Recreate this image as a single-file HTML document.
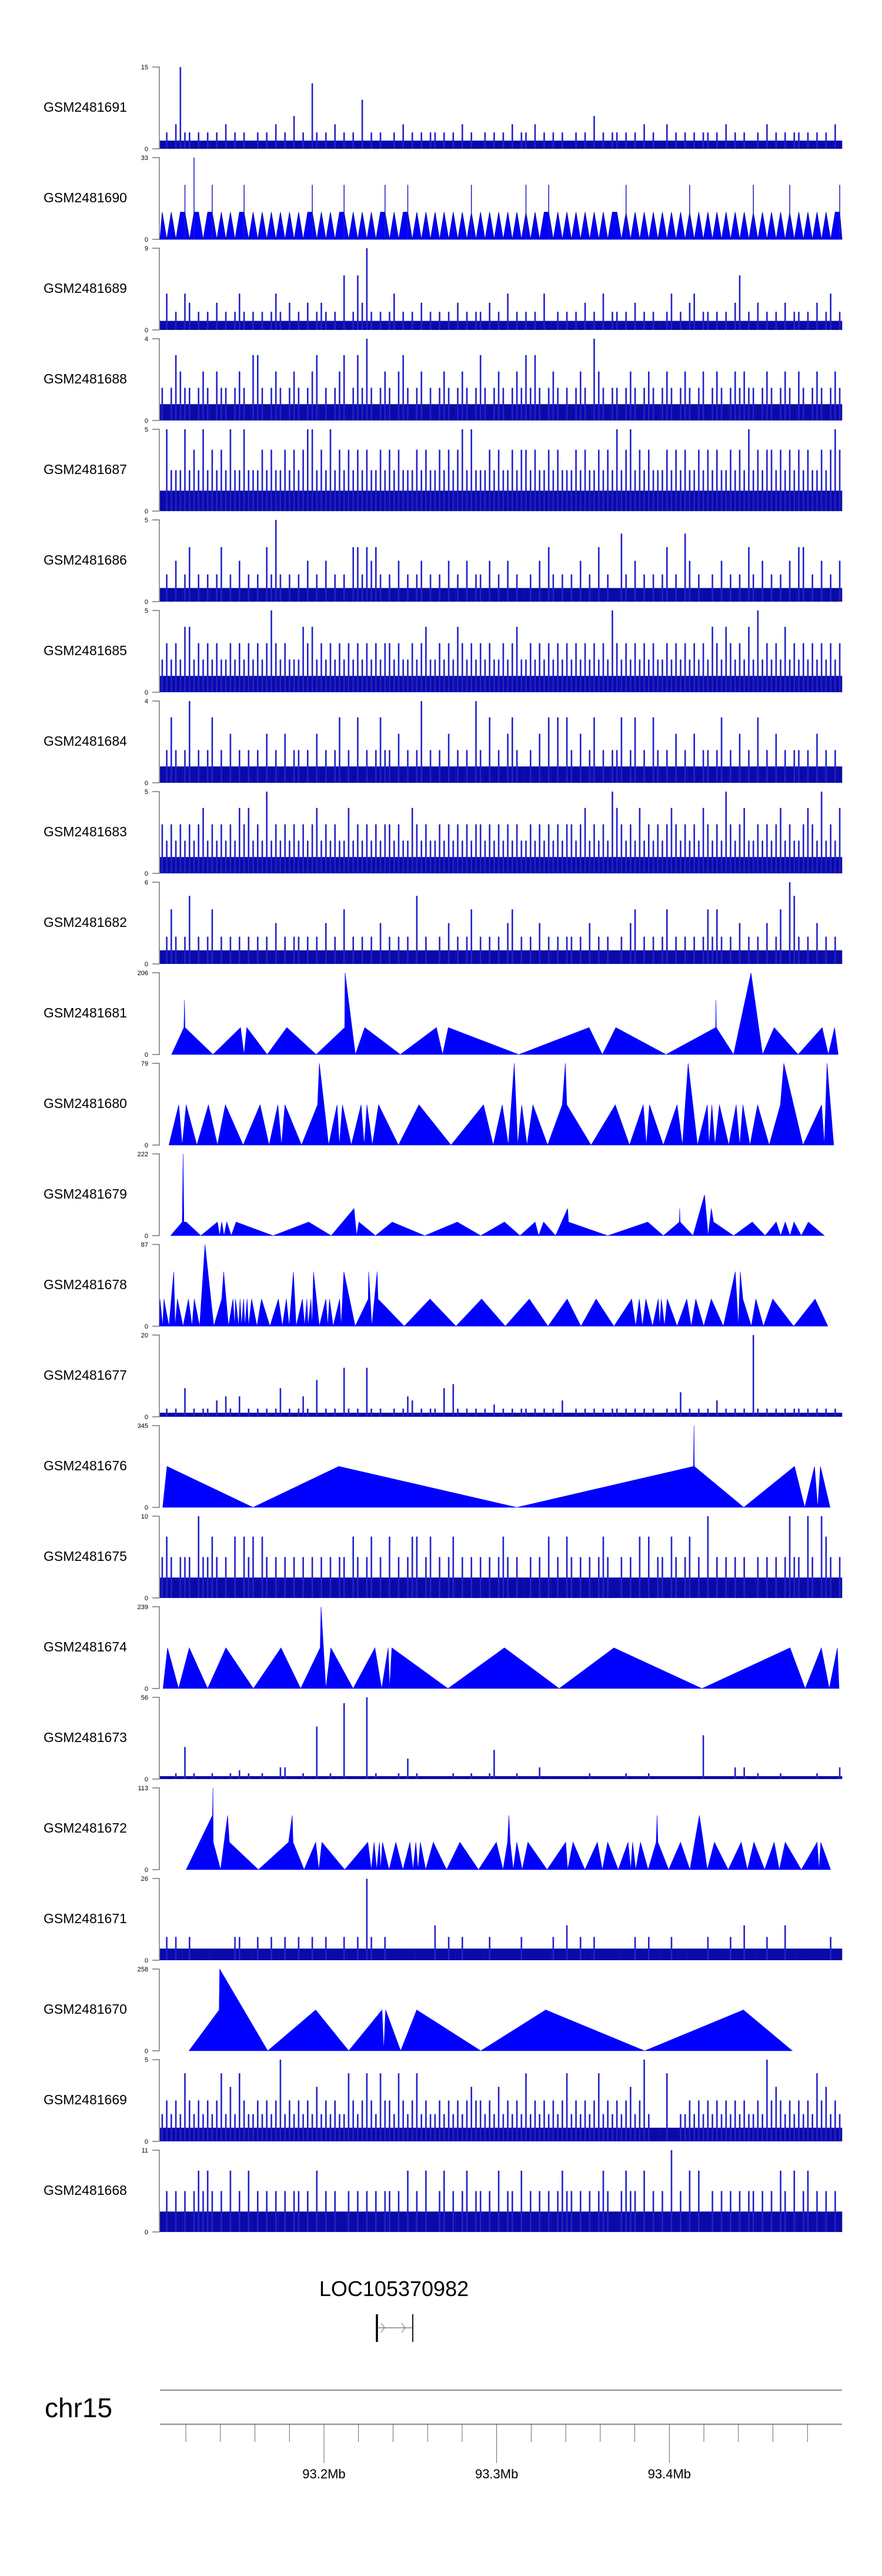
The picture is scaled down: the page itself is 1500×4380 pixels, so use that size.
<!DOCTYPE html>
<html><head><meta charset="utf-8">
<style>
html,body{margin:0;padding:0;background:#fff;}
svg{display:block;font-family:"Liberation Sans",Arial,sans-serif;}
</style></head>
<body>
<svg id="chart" width="1500" height="4380" viewBox="0 0 1500 4380" xmlns="http://www.w3.org/2000/svg">
<rect width="1500" height="4380" fill="#fff"/>
<g id="tracks"></g>
<g id="gene">
  <text x="670" y="3904" font-size="36" text-anchor="middle">LOC105370982</text>
  <line x1="641" y1="3935" x2="641" y2="3982" stroke="#000" stroke-width="3.5"/>
  <line x1="702" y1="3935" x2="702" y2="3982" stroke="#000" stroke-width="1.8"/>
  <line x1="641" y1="3958" x2="702" y2="3958" stroke="#444" stroke-width="1"/>
  <polyline points="648,3950 654,3958 648,3966" fill="none" stroke="#555" stroke-width="0.8"/>
  <polyline points="683,3950 689,3958 683,3966" fill="none" stroke="#555" stroke-width="0.8"/>
</g>
<g id="genome-axis">
  <text x="76" y="4110" font-size="46">chr15</text>
  <line x1="272" y1="4064" x2="1432" y2="4064" stroke="#999" stroke-width="2.5"/>
  <line x1="272" y1="4122" x2="1432" y2="4122" stroke="#999" stroke-width="2.5"/>
  <g id="gticks"></g>
</g>
</svg>
<script>
// ---------- data ----------
const sampleNames = ["GSM2481691","GSM2481690","GSM2481689","GSM2481688","GSM2481687","GSM2481686","GSM2481685","GSM2481684","GSM2481683","GSM2481682","GSM2481681","GSM2481680","GSM2481679","GSM2481678","GSM2481677","GSM2481676","GSM2481675","GSM2481674","GSM2481673","GSM2481672","GSM2481671","GSM2481670","GSM2481669","GSM2481668"];
const yMaxes = [15,33,9,4,5,5,5,4,5,6,206,79,222,87,20,345,10,239,56,113,26,258,5,11];

// binned coverage (level per bin, value = level * step), 150 bins over the region
const gsm2481691Levels = "1213a22121 2121312121 1212131214 1218212131 2121612121 1213121212 2121213121 1212121312 2131212121 1212141212 2121213121 1312121212 2121312121 1213121212 2121212131";
const gsm2481690Levels = "1010120310 1201010120 1010101010 1012010101 2010101012 0101201010 1010101020 1010101010 2010120101 0101010101 1020101010 1010102010 1010101010 2010101020 1010101012";
const gsm2481689Levels = "1412143121 2131212421 2121242131 2131232121 6126392121 2412121312 1212131212 2131214121 2121411212 1213121412 2121312121 1241213412 2121213612 1312121312 2121312412";
const gsm2481688Levels = "2124322123 2132212321 4421232123 2123412123 4124252123 2134212312 1232123212 4212321232 4242123212 1232153212 2123212321 2321232123 1232123232 2123212321 3212321232";
const gsm2481687Levels = "1422242324 2323242242 2232322323 2344232423 2323232232 3232223232 2323234242 2232322323 3232232322 2323223232 4234232322 2323232232 3232232324 2323323232 3232232343";
const gsm2481686Levels = "1213124121 2124121312 1214262121 2131213121 2144243421 2131212312 1213121312 2131213121 1213142121 2131214121 1521312121 2412153121 1213121214 2131212131 4412131213";
const gsm2481685Levels = "2323244232 3232232323 2323532322 2434232323 2323232323 3232232342 2323243232 3232232342 2323232323 2323232325 3232323232 2323232323 2432432324 2523232423 2323232323";
const gsm2481684Levels = "1242125121 2412131212 1213121312 2121312124 1214121242 2131212512 1213121215 2141213421 1213141414 2131241212 2412412142 1213121312 2124121312 1412131212 2121312121";
const gsm2481683Levels = "3232323234 2323232434 2325232323 2323423232 2423232323 3232243232 2323232323 3232323232 2323232323 3234232325 4323242323 2343232324 3232532342 2323234232 2343252324";
const gsm2481682Levels = "1242125121 2412121212 1212131212 2121213121 4121212131 2121215121 1213121241 2121213412 1213121212 2121312121 1213412121 2412121212 4242121312 1213124165 2121312121";
const gsm2481677Levels = "1212171212 2141521512 1212127121 2521912121 c2121c2121 1212541212 2171821212 1213121212 2121212141 1212121212 2121212121 1212612121 2141212121 k212121212 2121212121";
const gsm2481675Levels = "2321222142 2321213132 3132121212 1212121212 2132123121 3121233123 1212312121 2121232121 1212131213 2121212321 1212131312 2132123121 4121212121 1212121242 2142143212";
const gsm2481673Levels = "11121b1211 1211121312 1121114411 1211i11211 q1111s1211 1121712111 1111211121 112a111121 1114111111 1111211111 1121111211 111111111f 1111114141 1211112111 1111211114";
const gsm2481671Levels = "1212112111 1111112211 1211211211 2112112111 2112172112 1111111111 3112112111 1121111112 1111112113 1121121111 1111211211 1121111111 2111121131 1112111311 1111111211";
const gsm2481669Levels = "2323253232 3235242532 2323236232 3232423232 2532353253 3253235232 2323232343 3232423232 5232323235 2323235232 3234236211 1511223232 3232323232 2326343232 3232534232";
const gsm2481668Levels = "1212121232 3212131213 1212121212 2121312121 1212121212 2121312131 1231212312 2121312213 1212121232 2121212321 1232213121 2141213131 1212121212 2121213213 1231212121";
const levelSteps = [1.5,11,1,0.8,1.25,0.8333,1,0.8,1,1,null,null,null,null,1,null,2.5,null,2,null,3.7,null,0.8333,2.75];

// sparse coverage vertices (position in kb from 93,100,000 ; value)
const gsm2481681Pos = [11.7,18.9,19.2,19.5,35.7,51.7,53.7,55.3,67.1,78.5,95.5,112,112.2,118.2,123.6,144.2,165.1,168.7,172,212.8,253.5,261.2,269,298.1,326.8,327,327.2,337.2,347.3,354,360.7,374.6,388.5,392.1,395.7,397.8];
const gsm2481681Val = [0,68,137,68,0,68,0,68,0,68,0,68,206,0,68,0,68,0,68,0,68,0,68,0,68,137,68,0,206,0,68,0,68,0,68,0];
const gsm2481680Pos = [10.2,15.9,17.9,20.2,26.4,33.1,38.3,42.9,53.2,63,68.2,73.3,75.4,77.4,87,96.3,97.3,102.7,107.6,108.9,110.7,115.8,121.5,123.3,124.9,128,131.6,143.1,155,173.6,192.4,198,203.2,206.8,210.2,212.2,214.5,217.6,221,229.5,238,239.8,240.6,254.7,268.7,276.9,284.9,286.7,288.5,296.5,304.5,307.6,310.9,316.3,322,323,324.6,326.4,329,334.4,338.7,340.8,342.6,346.7,351.1,357.8,364.3,366.3,377.4,388.2,389.8,391.3,395.2];
const gsm2481680Val = [0,39,0,39,0,39,0,39,0,39,0,39,0,39,0,39,79,0,39,0,39,0,39,0,39,0,39,0,39,0,39,0,39,0,79,0,39,0,39,0,39,79,39,0,39,0,39,0,39,0,39,0,79,0,39,0,39,0,39,0,39,0,39,0,39,0,39,79,0,39,0,79,0];
const gsm2481679Pos = [11.2,17.9,18.4,18.9,20.2,28.7,38.3,39.6,40.8,42.1,43.7,46.3,49.1,70.5,91.1,104.2,117.4,118.9,120.2,129.8,139.5,158.4,177.2,190.8,204.5,213.5,222.3,224.3,227.2,234.1,241.1,241.6,264.3,287.5,296.5,305.8,306,306.3,313.7,320.4,322.5,324.3,325.6,337.2,348,355.5,361.9,364.5,367.1,369.9,372.2,376.4,380.5,389.8];
const gsm2481679Val = [0,37,222,37,37,0,37,0,37,0,37,0,37,0,37,0,74,0,37,0,37,0,37,0,37,0,37,0,37,0,74,37,0,37,0,37,74,37,0,111,0,74,37,0,37,0,37,0,37,0,37,0,37,0];
const gsm2481678Pos = [4.8,5,6.6,7.3,10.2,13,13.8,15.1,18.4,21.5,23.6,24.9,28,31.1,36.2,40.8,41.9,44.7,47.3,48.3,48.8,50.6,51.4,52.2,53.5,54.2,55.5,56.3,58.1,61.2,63.8,68.7,73.6,75.9,78.2,79.8,82.3,83.9,87.5,88.8,90.1,90.8,92.4,93.2,93.9,97.3,101.1,102.2,103.2,105.3,109.1,109.9,111.5,118.1,125.6,125.9,127.7,130.8,131.3,146.5,161.4,176.4,191.3,205,218.9,229.7,240.8,248.8,257.6,267.9,278.2,280.5,282.6,284.4,286.4,290.3,293.6,294.4,295.4,297.2,298.8,304.5,310.1,312.7,315.3,319.9,324.3,331.3,338.2,340,341.1,342.6,347.5,350.1,354.5,359.9,372,384.4,391.8];
const gsm2481678Val = [0,29,0,29,0,58,0,29,0,29,0,29,0,87,0,29,58,0,29,0,29,0,29,0,29,0,29,0,29,0,29,0,29,0,29,0,58,0,29,0,29,0,29,0,58,0,29,0,29,0,29,0,58,0,29,58,0,58,29,0,29,0,29,0,29,0,29,0,29,0,29,0,29,0,29,0,29,0,29,0,29,0,29,0,29,0,29,0,58,0,58,29,0,29,0,29,0,29,0];
const gsm2481676Pos = [6.6,9.1,58.9,108.6,211.7,314,314.3,314.5,343.1,372.5,378.4,384.1,385.9,387.5,393.1];
const gsm2481676Val = [0,173,0,173,0,173,345,173,0,173,0,173,0,173,0];
const gsm2481674Pos = [6.8,9.4,15.8,22,32.6,43.2,59.1,75.1,86.5,97.8,98.3,101.1,104,116.9,129.5,133.4,137.2,138,139.3,171.8,204.5,236.2,267.9,318.9,369.9,378.7,388,392.6,397.3,398.3];
const gsm2481674Val = [0,119,0,119,0,119,0,119,0,119,239,0,119,0,119,0,119,0,119,0,119,0,119,0,119,0,119,0,119,0];
const gsm2481672Pos = [20.2,35.4,35.7,35.9,40.1,44.2,45.2,62,79.5,81.6,82.1,88.5,95.2,97,98.8,112,125.4,127.4,129,130.5,132.1,132.8,133.9,137.7,141.6,145.7,149.8,151.6,153.2,154.5,155.8,158.9,163.3,171,178.7,189.5,199.8,203.7,206.3,207.1,207.8,209.6,211.7,214.8,218.1,229.2,240,241.1,244.2,251.1,258.3,261.2,264.3,270.4,276.1,277.7,278.7,280.5,283.3,287.7,292.4,292.9,293.4,299.6,306.5,311.9,317.4,322,326.1,334.1,341.6,345.2,349,355.2,360.7,363.7,367.1,376.4,385.6,386.7,387.7,393.4];
const gsm2481672Val = [0,75,113,38,0,75,38,0,38,75,38,0,38,0,38,0,38,0,38,0,38,0,38,0,38,0,38,0,38,0,38,0,38,0,38,0,38,0,38,75,38,0,38,0,38,0,38,0,38,0,38,0,38,0,38,0,38,0,38,0,38,75,38,0,38,0,75,0,38,0,38,0,38,0,38,0,38,0,38,0,38,0];
const gsm2481670Pos = [21.8,39.3,39.6,67.4,95.2,114.3,133.6,134.6,135.7,144.4,153.7,190.8,228.4,285.7,342.9,371.2];
const gsm2481670Val = [0,129,258,0,129,0,129,0,129,0,129,0,129,0,129,0];

const binnedLevels = [gsm2481691Levels,gsm2481690Levels,gsm2481689Levels,gsm2481688Levels,gsm2481687Levels,gsm2481686Levels,gsm2481685Levels,gsm2481684Levels,gsm2481683Levels,gsm2481682Levels,null,null,null,null,gsm2481677Levels,null,gsm2481675Levels,null,gsm2481673Levels,null,gsm2481671Levels,null,gsm2481669Levels,gsm2481668Levels];
const sparsePos = {10:gsm2481681Pos,11:gsm2481680Pos,12:gsm2481679Pos,13:gsm2481678Pos,15:gsm2481676Pos,17:gsm2481674Pos,19:gsm2481672Pos,21:gsm2481670Pos};
const sparseVal = {10:gsm2481681Val,11:gsm2481680Val,12:gsm2481679Val,13:gsm2481678Val,15:gsm2481676Val,17:gsm2481674Val,19:gsm2481672Val,21:gsm2481670Val};
const areaModeTracks = [1];

const genomeTicksKb = [20,40,60,80,100,120,140,160,180,200,220,240,260,280,300,320,340,360,380];
const genomeMajorKb = [100,200,300];
const genomeMajorLabels = ["93.2Mb","93.3Mb","93.4Mb"];

// ---------- scales ----------
const NS = "http://www.w3.org/2000/svg";
const regionStartKb = 5, regionEndKb = 400;
const plotLeft = 272, plotRight = 1432;
function xScale(kb){ return plotLeft + (kb - regionStartKb) * (plotRight - plotLeft) / (regionEndKb - regionStartKb); }
const trackTop0 = 114, trackPitch = 154, plotH = 139;
function mk(tag, attrs, parent){ const e=document.createElementNS(NS,tag); for(const k in attrs) e.setAttribute(k,attrs[k]); parent.appendChild(e); return e; }

const tracksG = document.getElementById("tracks");
sampleNames.forEach((name, i) => {
  const top = trackTop0 + i*trackPitch, base = top + plotH, ymax = yMaxes[i];
  const yS = v => base - (v/ymax)*plotH;
  const g = mk("g", {}, tracksG);
  
  
  const lab = mk("text", {x:74, y:top+76, "font-size":23}, g);
  lab.textContent = name;
  
  
  const ax = mk("path", {d:`M259 ${top}H271V${base}H259`, fill:"none", stroke:"#777", "stroke-width":1.5}, g);
  
  
  const t1 = mk("text", {x:252, y:top+4, "font-size":11, "text-anchor":"end"}, g);
  t1.textContent = String(ymax);
  
  
  const t0 = mk("text", {x:252, y:base+4, "font-size":11, "text-anchor":"end"}, g);
  t0.textContent = "0";
  
  

  if (binnedLevels[i]) {
    const lv = binnedLevels[i].replace(/ /g,"").split("").map(c=>parseInt(c,36));
    const step = levelSteps[i];
    const n = lv.length, bw = (regionEndKb-regionStartKb)/n;
    if (areaModeTracks.includes(i)) {
      let pts = `${xScale(regionStartKb)},${base} `;
      lv.forEach((l,k)=>{ pts += `${xScale(regionStartKb+(k+0.5)*bw).toFixed(1)},${yS(Math.min(l,1)*step).toFixed(1)} `; });
      pts += `${xScale(regionEndKb)},${base}`;
      const p = mk("polygon", {points:pts, fill:"#0000ff", stroke:"#00008b", "stroke-width":0.8}, g);
      
      
      lv.forEach((l,k)=>{
        if (l > 1) {
          const xc = xScale(regionStartKb+(k+0.5)*bw);
          const ln = mk("line", {x1:xc.toFixed(1), x2:xc.toFixed(1), y1:base, y2:yS(l*step).toFixed(1), stroke:"#1a1ac4", "stroke-width":1.5}, g);
          
          
        }
      });
    } else {
      lv.forEach((l,k)=>{
        const v = l*step, x0 = xScale(regionStartKb+k*bw), x1 = xScale(regionStartKb+(k+1)*bw);
        const bandV = Math.min(v, step);
        const r = mk("rect", {x:x0.toFixed(1), y:yS(bandV).toFixed(1), width:(x1-x0+0.3).toFixed(1), height:(base-yS(bandV)).toFixed(1), fill:"#0a0aa8"}, g);
        
        
        if (v > step) {
          const xc = (x0+x1)/2;
          const ln = mk("line", {x1:xc.toFixed(1), x2:xc.toFixed(1), y1:base, y2:yS(v).toFixed(1), stroke:"#2222c8", "stroke-width":2.6}, g);
          
          
        }
      });
    }
  } else if (sparsePos[i]) {
    const P = sparsePos[i], V = sparseVal[i];
    let pts = `${xScale(P[0]).toFixed(1)},${base} `;
    P.forEach((p,k)=>{ pts += `${xScale(p).toFixed(1)},${yS(V[k]).toFixed(1)} `; });
    pts += `${xScale(P[P.length-1]).toFixed(1)},${base}`;
    const poly = mk("polygon", {points:pts, fill:"#0000ff", stroke:"#0000ff", "stroke-width":0.6}, g);
    
    
  }
});

const gt = document.getElementById("gticks");
genomeTicksKb.forEach(kb => {
  const x = xScale(kb), major = genomeMajorKb.includes(kb);
  const l = mk("line", {x1:x, x2:x, y1:4122, y2: major ? 4188 : 4152, stroke:"#444", "stroke-width":0.8}, gt);
  
  
});
genomeMajorKb.forEach((kb, j) => {
  const t = mk("text", {x:xScale(kb), y:4214, "font-size":22, "text-anchor":"middle"}, gt);
  t.textContent = genomeMajorLabels[j];
  
  
});
</script>
</body></html>
